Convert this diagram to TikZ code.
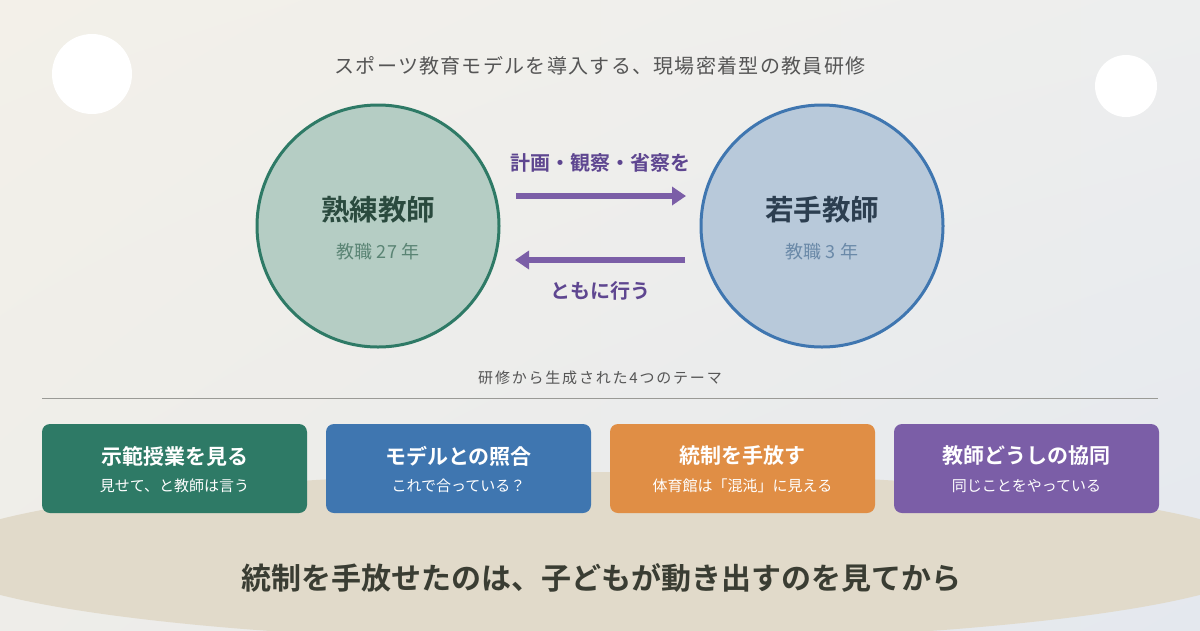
\documentclass[tikz,border=0pt]{standalone}
\usepackage{fontspec}
\setmainfont{Noto Sans CJK JP}[BoldFont={Noto Sans CJK JP Bold}]
\usetikzlibrary{arrows.meta,shadings}
\definecolor{bgTL}{HTML}{F3F0E9}
\definecolor{bgTR}{HTML}{EDEEEE}
\definecolor{bgBL}{HTML}{EEEDE9}
\definecolor{bgBR}{HTML}{E4E8EE}
\definecolor{beige}{HTML}{E1DACA}
\definecolor{cgreen}{HTML}{2E7A66}
\definecolor{cgreenfill}{HTML}{B5CDC4}
\definecolor{cgreentext}{HTML}{2A4A3E}
\definecolor{cgreensub}{HTML}{5A8474}
\definecolor{cblue}{HTML}{3F76B0}
\definecolor{cbluefill}{HTML}{B8C9DA}
\definecolor{cbluetext}{HTML}{2C3E50}
\definecolor{cbluesub}{HTML}{6A89A8}
\definecolor{corange}{HTML}{E08E45}
\definecolor{cpurple}{HTML}{7B5EA7}
\definecolor{cpurpletext}{HTML}{5E4690}
\definecolor{cgray}{HTML}{555555}
\definecolor{cline}{HTML}{9A9A96}
\definecolor{cdark}{HTML}{3A3D33}
\begin{document}
\begin{tikzpicture}[x=1pt,y=-1pt,
  every node/.style={inner sep=0pt, outer sep=0pt},
  bigcirc/.style={circle, minimum size=242pt, line width=3pt},
  flow/.style={line width=6pt, draw=cpurple, -{Triangle[length=14pt,width=18pt]}},
  theme/.style={rounded corners=8pt, minimum width=265pt, minimum height=89pt},
  themetitle/.style={text=white, font=\fontsize{21}{25}\selectfont\bfseries},
  themesub/.style={text=white, font=\fontsize{15}{18}\selectfont},
  deco/.style={fill=white, draw=none}
]
\useasboundingbox (0,0) rectangle (1200,630);
\shade[upper left=bgTL, upper right=bgTR, lower left=bgBL, lower right=bgBR] (0,0) rectangle (1200,630);
\fill[beige] (600,557) ellipse [x radius=670, y radius=85];
\fill[deco] (92,74) circle (40);
\fill[deco] (1126,86) circle (31);

\node[text=cgray, font=\fontsize{20}{24}\selectfont\addfontfeature{LetterSpace=6.5}] (title) at (600,66) {スポーツ教育モデルを導入する、現場密着型の教員研修};

\node[bigcirc, draw=cgreen, fill=cgreenfill] (L) at (378,226) {};
\node[bigcirc, draw=cblue, fill=cbluefill] (R) at (822,226) {};
\node[text=cgreentext, font=\fontsize{28.5}{32}\selectfont\bfseries] (Lname) at (378,210) {熟練教師};
\node[text=cgreensub, font=\fontsize{18}{22}\selectfont] (Lsub) at (378,252) {教職 27 年};
\node[text=cbluetext, font=\fontsize{28.5}{32}\selectfont\bfseries] (Rname) at (822,210) {若手教師};
\node[text=cbluesub, font=\fontsize{18}{22}\selectfont] (Rsub) at (822,252) {教職 3 年};

\coordinate (a1s) at (516,196);
\coordinate (a1e) at (686,196);
\coordinate (a2s) at (685,260);
\coordinate (a2e) at (515,260);
\draw[flow] (a1s) -- (a1e);
\draw[flow] (a2s) -- (a2e);
\node[text=cpurpletext, font=\fontsize{20}{24}\selectfont\bfseries] (lab1) at (600,163) {計画・観察・省察を};
\node[text=cpurpletext, font=\fontsize{20}{24}\selectfont\bfseries] (lab2) at (600,291) {ともに行う};

\node[text=cgray, font=\fontsize{15}{18}\selectfont\addfontfeature{LetterSpace=12}] (head) at (600,378) {研修から生成された4つのテーマ};
\coordinate (ls) at (42,398);
\coordinate (le) at (1158,398);
\draw[cline, line width=1pt] (ls) -- (le);

\node[theme, fill=cgreen] (t1) at (174.5,468.5) {};
\node[theme, fill=cblue] (t2) at (458.5,468.5) {};
\node[theme, fill=corange] (t3) at (742.5,468.5) {};
\node[theme, fill=cpurple] (t4) at (1026.5,468.5) {};
\node[themetitle] (t1a) at (174.5,456) {示範授業を見る};
\node[themesub] (t1b) at (174.5,486) {見せて、と教師は言う};
\node[themetitle] (t2a) at (458.5,456) {モデルとの照合};
\node[themesub] (t2b) at (458.5,486) {これで合っている？};
\node[themetitle] (t3a) at (742.5,456) {統制を手放す};
\node[themesub] (t3b) at (742.5,486) {体育館は「混沌」に見える};
\node[themetitle] (t4a) at (1026.5,456) {教師どうしの協同};
\node[themesub] (t4b) at (1026.5,486) {同じことをやっている};

\node[text=cdark, font=\fontsize{30}{34}\selectfont\bfseries] (quote) at (601,578) {統制を手放せたのは、子どもが動き出すのを見てから};
\end{tikzpicture}
\end{document}
